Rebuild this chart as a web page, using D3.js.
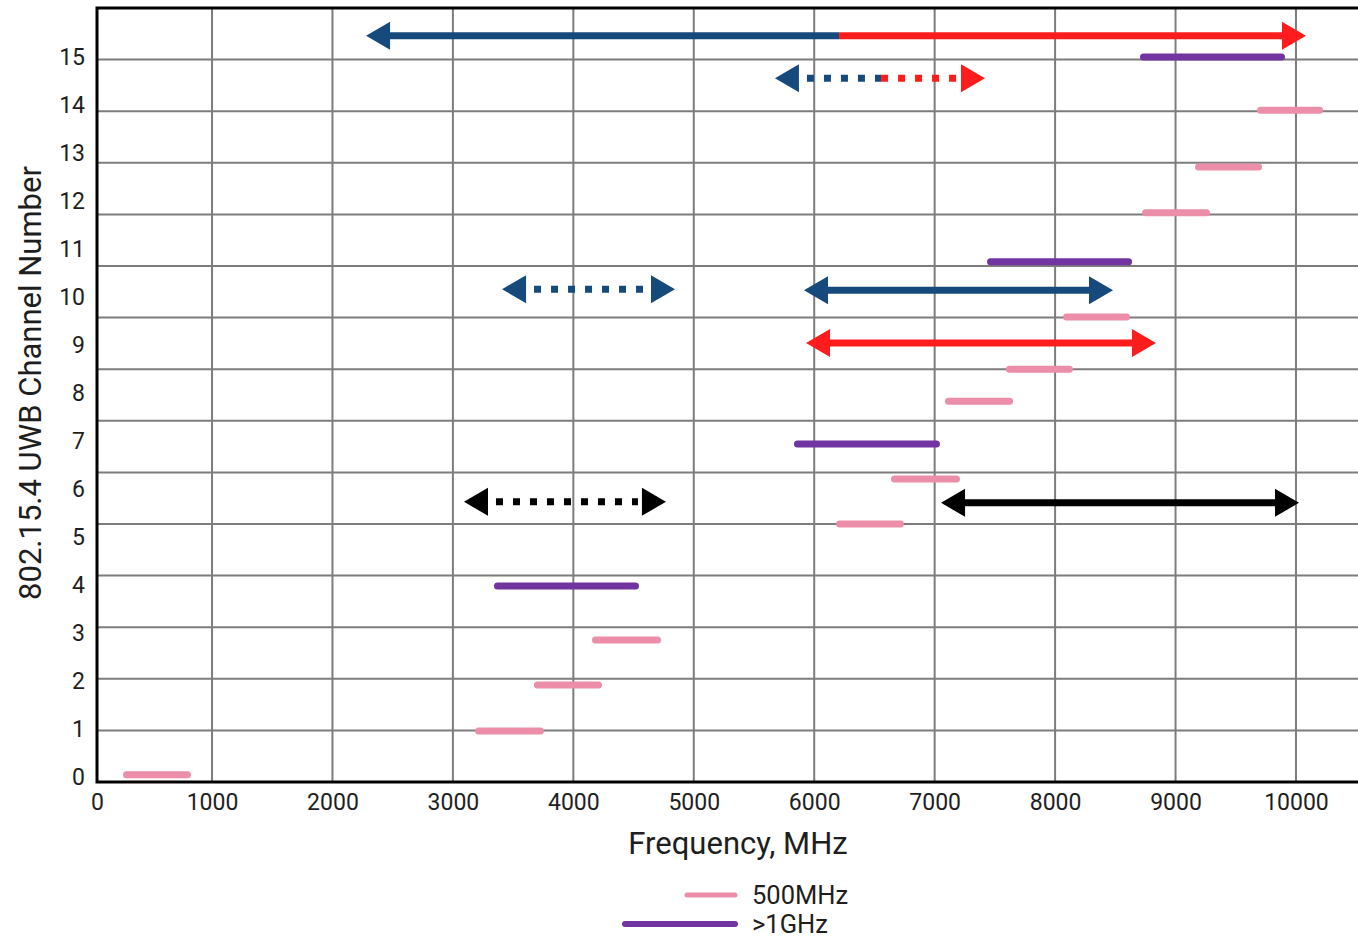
<!DOCTYPE html>
<html>
<head>
<meta charset="utf-8">
<script src="https://cdn.jsdelivr.net/npm/d3@7"></script>
<style>
  html, body { margin: 0; padding: 0; background: #fff; }
  svg { display: block; font-family: Roboto, "Noto Sans", sans-serif; }
</style>
</head>
<body>
<div id="chart"></div>
<script>
// UWB channels, frequency span (MHz) and drawn row
const channels = d3.range(0, 16);
const chanLo = [290, 3213, 3702, 4184, 3370, 6210, 6667, 5861, 7115, 7621, 8095, 7464, 8751, 9191, 9706, 8734];
const chanHi = [796, 3727, 4209, 4699, 4516, 6716, 7181, 7015, 7622, 8119, 8593, 8610, 9257, 9689, 10196, 9880];
const chanRow = [0.14, 0.99, 1.88, 2.75, 3.8, 5.0, 5.87, 6.55, 7.38, 8.0, 9.01, 10.08, 11.03, 11.92, 13.02, 14.05];
const chanType = ["500MHz", "500MHz", "500MHz", "500MHz", ">1GHz", "500MHz", "500MHz", ">1GHz",
  "500MHz", "500MHz", "500MHz", ">1GHz", "500MHz", "500MHz", "500MHz", ">1GHz"];

// band arrows
const arrowLo = [2279, 6206, 5674, 6555, 3408, 5915, 5932, 3092, 7053];
const arrowHi = [6206, 10083, 6555, 7418, 4844, 8481, 8838, 4769, 10025];
const arrowRow = [14.46, 14.46, 13.64, 13.64, 9.55, 9.53, 8.51, 5.43, 5.41];
const arrowColor = ["blue", "red", "blue", "red", "blue", "blue", "red", "black", "black"];
const arrowDotted = [false, false, true, true, true, false, false, true, false];
const arrowHeads = ["left", "right", "left", "right", "both", "both", "both", "both", "both"];

const xTicks = [0, 1000, 2000, 3000, 4000, 5000, 6000, 7000, 8000, 9000, 10000];
const legendLabels = ["500MHz", ">1GHz"];

const colors = {
  "500MHz": "#ec8daa",
  ">1GHz": "#7134a1",
  blue: "#174a7c",
  red: "#ff1c1c",
  black: "#000000"
};

const width = 1358;
const height = 942;
const textColor = "#1e1e1e";

const svg = d3.select("#chart")
  .append("svg")
  .attr("width", width)
  .attr("height", height);

const x = d3.scaleLinear().domain([45, 10515]).range([97, 1358]).clamp(true);
const y = d3.scaleLinear().domain([0, 15]).range([782, 8]);
// tick labels sit on their own spacing in the original
const yLabel = d3.scaleLinear().domain([0, 15]).range([777, 57]);

// grid
svg.append("g")
  .selectAll("line")
  .data(xTicks.slice(1))
  .join("line")
  .attr("x1", d => x(d)).attr("x2", d => x(d))
  .attr("y1", y(0)).attr("y2", y(15))
  .attr("stroke", "#7d7d7d")
  .attr("stroke-width", 2);

svg.append("g")
  .selectAll("line")
  .data(d3.range(1, 15))
  .join("line")
  .attr("x1", x.range()[0]).attr("x2", x.range()[1])
  .attr("y1", d => y(d)).attr("y2", d => y(d))
  .attr("stroke", "#7d7d7d")
  .attr("stroke-width", 2);

// frame
svg.append("path")
  .attr("d", `M${x.range()[1]},${y(15)}H${x.range()[0]}V${y(0)}H${x.range()[1]}`)
  .attr("fill", "none")
  .attr("stroke", "#000")
  .attr("stroke-width", 3);

// channel bars
svg.append("g")
  .selectAll("line")
  .data(channels)
  .join("line")
  .attr("x1", i => x(chanLo[i]))
  .attr("x2", i => x(chanHi[i]))
  .attr("y1", i => y(chanRow[i]))
  .attr("y2", i => y(chanRow[i]))
  .attr("stroke", i => colors[chanType[i]])
  .attr("stroke-width", 7)
  .attr("stroke-linecap", "round");

// arrows
const headLen = 24;
const headHalf = 14;
const arrows = svg.append("g");
arrowLo.forEach((lo, i) => {
  const x0 = x(lo);
  const x1 = x(arrowHi[i]);
  const yy = y(arrowRow[i]);
  const c = colors[arrowColor[i]];
  const left = arrowHeads[i] === "left" || arrowHeads[i] === "both";
  const right = arrowHeads[i] === "right" || arrowHeads[i] === "both";
  const dotted = arrowDotted[i];
  let a = x0 + (left ? headLen - 2 : 0);
  let b = x1 - (right ? headLen - 2 : 0);
  if (dotted) {
    if (left) a += 10;
    if (right) b -= 6;
  }
  arrows.append("line")
    .attr("x1", a).attr("x2", b)
    .attr("y1", yy).attr("y2", yy)
    .attr("stroke", c)
    .attr("stroke-width", 7)
    .attr("stroke-dasharray", dotted ? "7 10" : null);
  if (left) {
    arrows.append("path")
      .attr("d", `M${x0},${yy}L${x0 + headLen},${yy - headHalf}V${yy + headHalf}Z`)
      .attr("fill", c);
  }
  if (right) {
    arrows.append("path")
      .attr("d", `M${x1},${yy}L${x1 - headLen},${yy - headHalf}V${yy + headHalf}Z`)
      .attr("fill", c);
  }
});

// x axis labels
const xAxis = svg.append("g")
  .attr("transform", `translate(0,${y(0)})`)
  .call(d3.axisBottom(x).tickValues(xTicks).tickSize(0).tickPadding(12).tickFormat(d3.format("d")));
xAxis.select(".domain").remove();
xAxis.selectAll("text")
  .attr("font-size", 23)
  .attr("font-family", "Roboto, sans-serif")
  .attr("font-weight", 400)
  .attr("fill", textColor);

// y axis labels
const yAxis = svg.append("g")
  .attr("transform", `translate(${x.range()[0]},0)`)
  .call(d3.axisLeft(yLabel).tickValues(channels).tickSize(0).tickPadding(12));
yAxis.select(".domain").remove();
yAxis.selectAll("text")
  .attr("font-size", 23)
  .attr("font-family", "Roboto, sans-serif")
  .attr("font-weight", 400)
  .attr("fill", textColor);

// axis titles
svg.append("text")
  .attr("x", 738)
  .attr("y", 854)
  .attr("text-anchor", "middle")
  .attr("font-size", 31)
  .attr("fill", textColor)
  .text("Frequency, MHz");

svg.append("text")
  .attr("transform", `translate(41,383) rotate(-90)`)
  .attr("text-anchor", "middle")
  .attr("font-size", 31)
  .attr("fill", textColor)
  .text("802.15.4 UWB Channel Number");

// legend
const legendLeft = [687, 625];
const legend = svg.append("g")
  .selectAll("g")
  .data(legendLabels)
  .join("g")
  .attr("transform", (d, i) => `translate(0,${895 + i * 29})`);
legend.append("line")
  .attr("x1", (d, i) => legendLeft[i])
  .attr("x2", 735)
  .attr("stroke", d => colors[d])
  .attr("stroke-width", (d, i) => (i === 0 ? 5 : 6))
  .attr("stroke-linecap", "round");
legend.append("text")
  .attr("x", 752)
  .attr("dy", "0.36em")
  .attr("font-size", 25.5)
  .attr("fill", textColor)
  .text(d => d);
</script>
</body>
</html>
